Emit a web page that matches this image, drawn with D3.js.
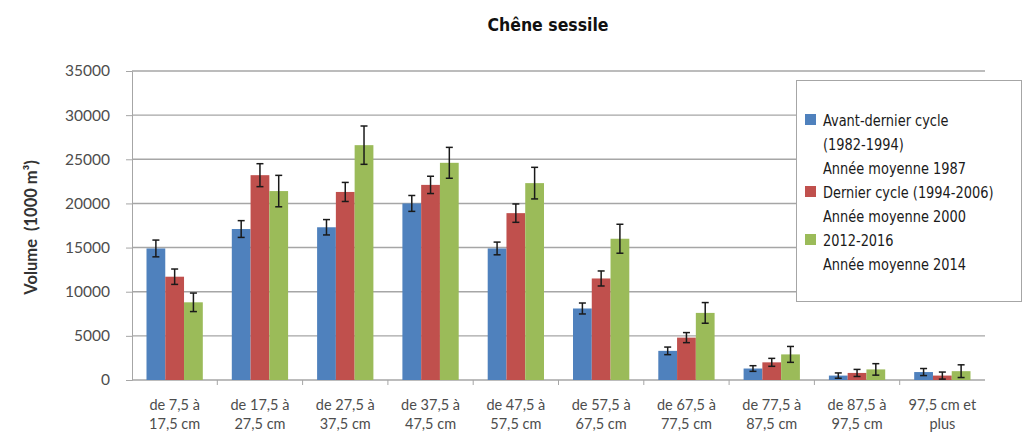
<!DOCTYPE html>
<html>
<head>
<meta charset="utf-8">
<script src="https://cdn.jsdelivr.net/npm/d3@7"></script>
<style>
  body { margin: 0; background: #fff; }
  svg { display: block; }
  .tick text { fill: #4d4d4d; }
</style>
</head>
<body>
<div id="chart"></div>
<script>
const categories = [
    ["de 7,5 à", "17,5 cm"], ["de 17,5 à", "27,5 cm"], ["de 27,5 à", "37,5 cm"],
    ["de 37,5 à", "47,5 cm"], ["de 47,5 à", "57,5 cm"], ["de 57,5 à", "67,5 cm"],
    ["de 67,5 à", "77,5 cm"], ["de 77,5 à", "87,5 cm"], ["de 87,5 à", "97,5 cm"],
    ["97,5 cm et", "plus"]
];
const seriesNames = ["Avant-dernier cycle", "Dernier cycle", "2012-2016"];
const legendLines = [
    ["Avant-dernier cycle", "(1982-1994)", "Année moyenne 1987"],
    ["Dernier cycle (1994-2006)", "Année moyenne 2000"],
    ["2012-2016", "Année moyenne 2014"]
];
const colors = ["#4f81bd", "#c0504d", "#9bbb59"];

const avantDernier = [14900, 17100, 17300, 20000, 14900, 8100, 3300, 1300, 500, 900];
const dernier      = [11700, 23200, 21300, 22100, 18900, 11500, 4800, 2000, 800, 500];
const recent       = [8800, 21400, 26600, 24600, 22300, 16000, 7600, 2900, 1200, 1000];
const errAvant     = [950, 950, 870, 900, 720, 620, 430, 320, 300, 400];
const errDernier   = [870, 1300, 1080, 980, 1040, 850, 570, 450, 400, 400];
const errRecent    = [1050, 1780, 2170, 1750, 1790, 1640, 1170, 900, 650, 720];
const yTicks = [0, 5000, 10000, 15000, 20000, 25000, 30000, 35000];

const width = 1026, height = 432;
const margin = { top: 71, right: 41, bottom: 52, left: 132 };
const narrow = "'DejaVu Sans Condensed', 'Liberation Sans Narrow', sans-serif";
const body = "Lato, 'Open Sans', sans-serif";

const values = [avantDernier, dernier, recent];
const errors = [errAvant, errDernier, errRecent];
const catKeys = categories.map(c => c.join(" "));

const svg = d3.select("#chart")
    .append("svg")
    .attr("width", width)
    .attr("height", height);

const x0 = d3.scaleBand()
    .domain(catKeys)
    .range([margin.left, width - margin.right])
    .paddingInner(0.34)
    .paddingOuter(0.17);

const x1 = d3.scaleBand()
    .domain(d3.range(seriesNames.length))
    .range([0, x0.bandwidth()]);

const y = d3.scaleLinear()
    .domain([0, 35000])
    .range([height - margin.bottom, margin.top]);

// title
svg.append("text")
    .attr("x", 548)
    .attr("y", 31)
    .attr("text-anchor", "middle")
    .style("font-family", narrow)
    .style("font-weight", "bold")
    .style("font-size", "17.5px")
    .attr("fill", "#111")
    .text("Chêne sessile");

// gridlines
svg.append("g")
    .selectAll("line")
    .data(yTicks.slice(1))
    .enter().append("line")
    .attr("x1", margin.left)
    .attr("x2", width - margin.right)
    .attr("y1", d => y(d))
    .attr("y2", d => y(d))
    .attr("stroke", "#a6a6a6")
    .attr("stroke-width", 1.4);

// y axis
const yAxis = svg.append("g")
    .attr("transform", `translate(${margin.left},0)`)
    .call(d3.axisLeft(y).tickValues(yTicks).tickSize(6).tickPadding(16).tickFormat(d3.format("d")));
yAxis.selectAll("text")
    .style("font-family", body)
    .style("font-size", "15.5px");
yAxis.selectAll("line, path").attr("stroke", "#a6a6a6");

// x axis
const xAxisY = y(0);
svg.append("line")
    .attr("x1", margin.left)
    .attr("x2", width - margin.right)
    .attr("y1", xAxisY)
    .attr("y2", xAxisY)
    .attr("stroke", "#a6a6a6")
    .attr("stroke-width", 1.4);

svg.append("g")
    .selectAll("line")
    .data(catKeys.slice(1))
    .enter().append("line")
    .attr("x1", d => x0(d) - x0.step() * x0.paddingInner() / 2)
    .attr("x2", d => x0(d) - x0.step() * x0.paddingInner() / 2)
    .attr("y1", xAxisY)
    .attr("y2", xAxisY + 5)
    .attr("stroke", "#a6a6a6");

const xLabels = svg.append("g")
    .selectAll("text")
    .data(categories)
    .enter().append("text")
    .attr("text-anchor", "middle")
    .attr("fill", "#4d4d4d")
    .style("font-family", body)
    .style("font-size", "14.5px")
    .attr("transform", (d, i) => `translate(${x0(catKeys[i]) + x0.bandwidth() / 2},${xAxisY + 30})`);
xLabels.append("tspan").attr("x", 0).attr("dy", 0).text(d => d[0]);
xLabels.append("tspan").attr("x", 0).attr("dy", 19).text(d => d[1]);

// bars
const groups = svg.append("g")
    .selectAll("g")
    .data(catKeys)
    .enter().append("g")
    .attr("transform", d => `translate(${x0(d)},0)`);

const barData = (d, i) => values.map((s, k) => ({ k: k, v: s[i], e: errors[k][i] }));

groups.selectAll("rect")
    .data(barData)
    .enter().append("rect")
    .attr("x", d => x1(d.k))
    .attr("width", x1.bandwidth())
    .attr("y", d => y(d.v))
    .attr("height", d => y(0) - y(d.v))
    .attr("fill", d => colors[d.k]);

// error bars
const errG = groups.selectAll("g.err")
    .data(barData)
    .enter().append("g")
    .attr("class", "err")
    .attr("stroke", "#1a1a1a")
    .attr("stroke-width", 1.5);

errG.append("line")
    .attr("x1", d => x1(d.k) + x1.bandwidth() / 2)
    .attr("x2", d => x1(d.k) + x1.bandwidth() / 2)
    .attr("y1", d => y(d.v + d.e))
    .attr("y2", d => y(Math.max(0, d.v - d.e)));

["hi", "lo"].forEach(side => {
    errG.append("line")
        .attr("x1", d => x1(d.k) + x1.bandwidth() / 2 - 3.5)
        .attr("x2", d => x1(d.k) + x1.bandwidth() / 2 + 3.5)
        .attr("y1", d => side === "hi" ? y(d.v + d.e) : y(Math.max(0, d.v - d.e)))
        .attr("y2", d => side === "hi" ? y(d.v + d.e) : y(Math.max(0, d.v - d.e)));
});

// y axis title
svg.append("text")
    .attr("transform", `translate(37,${(margin.top + y(0)) / 2 + 2}) rotate(-90)`)
    .attr("text-anchor", "middle")
    .attr("fill", "#333")
    .style("font-family", body)
    .style("font-weight", "bold")
    .style("font-size", "16.5px")
    .style("white-space", "pre")
    .attr("xml:space", "preserve")
    .text("Volume  (1000 m³)");

// legend
const legend = svg.append("g");
legend.append("rect")
    .attr("x", 796.5)
    .attr("y", 80.5)
    .attr("width", 225)
    .attr("height", 221)
    .attr("fill", "#fff")
    .attr("stroke", "#a6a6a6");

let row = 0;
legendLines.forEach((lines, k) => {
    const top = 120 + row * 24;
    legend.append("rect")
        .attr("x", 805)
        .attr("y", top - 6)
        .attr("width", 11)
        .attr("height", 11)
        .attr("fill", colors[k]);
    lines.forEach((t, j) => {
        legend.append("text")
            .attr("transform", `translate(823,${top + j * 24 + 6}) scale(0.9,1)`)
            .attr("fill", "#1a1a1a")
            .style("font-family", narrow)
            .style("font-size", "16px")
            .text(t);
    });
    row += lines.length;
});
</script>
</body>
</html>
